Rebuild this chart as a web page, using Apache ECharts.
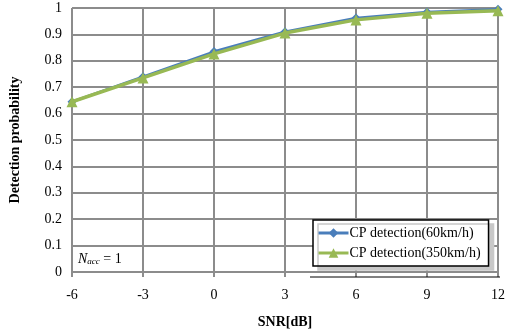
<!DOCTYPE html>
<html>
<head>
<meta charset="utf-8">
<script src="https://cdn.jsdelivr.net/npm/echarts@6/dist/echarts.min.js"></script>
<style>
  html, body { margin: 0; padding: 0; background: #fff; }
  #chart { width: 510px; height: 334px; }
</style>
</head>
<body>
<div id="chart"></div>
<script>
const snr = [-6, -3, 0, 3, 6, 9, 12];
const cp60 = [0.645, 0.74, 0.835, 0.91, 0.962, 0.985, 0.995];
const cp350 = [0.645, 0.735, 0.826, 0.905, 0.955, 0.98, 0.99];
const yTicks = [0, 0.1, 0.2, 0.3, 0.4, 0.5, 0.6, 0.7, 0.8, 0.9, 1];

const font = 'Liberation Serif, Times New Roman, serif';
const gridColor = '#8c8c8c';

const chart = echarts.init(document.getElementById('chart'));

chart.setOption({
  animation: false,
  textStyle: { fontFamily: font },
  grid: { left: 67, right: 12, top: 8, bottom: 62 },
  xAxis: {
    type: 'value',
    min: -6,
    max: 12,
    interval: 3,
    name: 'SNR[dB]',
    nameLocation: 'middle',
    nameGap: 43,
    nameTextStyle: { fontFamily: font, fontWeight: 'bold', fontSize: 14, color: '#000' },
    axisLine: { show: true, lineStyle: { color: gridColor, width: 2 } },
    axisTick: { show: true, length: 5, lineStyle: { color: gridColor, width: 2 } },
    axisLabel: { fontFamily: font, fontSize: 14, color: '#000', margin: 16 },
    splitLine: { show: true, lineStyle: { color: gridColor, width: 2 } }
  },
  yAxis: {
    type: 'value',
    min: 0,
    max: 1,
    interval: 0.1,
    name: 'Detection probability',
    nameLocation: 'middle',
    nameGap: 50,
    nameTextStyle: { fontFamily: font, fontWeight: 'bold', fontSize: 14, color: '#000' },
    axisLine: { show: true, lineStyle: { color: gridColor, width: 2 } },
    axisTick: { show: true, length: 5, lineStyle: { color: gridColor, width: 2 } },
    axisLabel: {
      fontFamily: font, fontSize: 14, color: '#000', margin: 10,
      formatter: v => {
        const t = yTicks.find(k => Math.abs(k - v) < 1e-6);
        return t === undefined ? '' : String(t);
      }
    },
    splitLine: { show: true, lineStyle: { color: gridColor, width: 2 } }
  },
  legend: {
    orient: 'vertical',
    left: 313,
    top: 220,
    width: 177,
    padding: [6, 8, 6, 4],
    itemGap: 6,
    itemWidth: 30,
    itemHeight: 12,
    lineStyle: { width: 3 },
    backgroundColor: '#fff',
    borderColor: '#000',
    borderWidth: 1.5,
    borderRadius: 0,
    shadowColor: '#c8c8c8',
    shadowOffsetX: 5,
    shadowOffsetY: 4,
    shadowBlur: 0,
    textStyle: { fontFamily: font, fontSize: 14, color: '#000', padding: [0, 0, 0, -4] },
    data: ['CP detection(60km/h)', 'CP detection(350km/h)']
  },
  graphic: [
    {
      type: 'line',
      shape: { x1: 310, y1: 277, x2: 500, y2: 277 },
      style: { stroke: '#000', lineWidth: 1 },
      z: 100
    },
    {
      type: 'text',
      left: 78,
      top: 252,
      style: {
        text: '{n|N}{s|acc}{e| = 1}',
        rich: {
          n: { fontFamily: font, fontStyle: 'italic', fontSize: 14, fill: '#000' },
          s: { fontFamily: font, fontStyle: 'italic', fontSize: 9, fill: '#000', padding: [5, 0, 0, 0] },
          e: { fontFamily: font, fontSize: 14, fill: '#000' }
        }
      },
      z: 100
    }
  ],
  series: [
    {
      name: 'CP detection(60km/h)',
      type: 'line',
      data: snr.map((x, i) => [x, cp60[i]]),
      symbol: 'diamond',
      symbolSize: 9,
      color: '#4a7ebb',
      lineStyle: { width: 2.5, color: '#4a7ebb' },
      itemStyle: { color: '#4a7ebb' },
      z: 3
    },
    {
      name: 'CP detection(350km/h)',
      type: 'line',
      data: snr.map((x, i) => [x, cp350[i]]),
      symbol: 'triangle',
      symbolSize: 11,
      color: '#98b954',
      lineStyle: { width: 3.5, color: '#98b954' },
      itemStyle: { color: '#98b954' },
      z: 4
    }
  ]
});
</script>
</body>
</html>
